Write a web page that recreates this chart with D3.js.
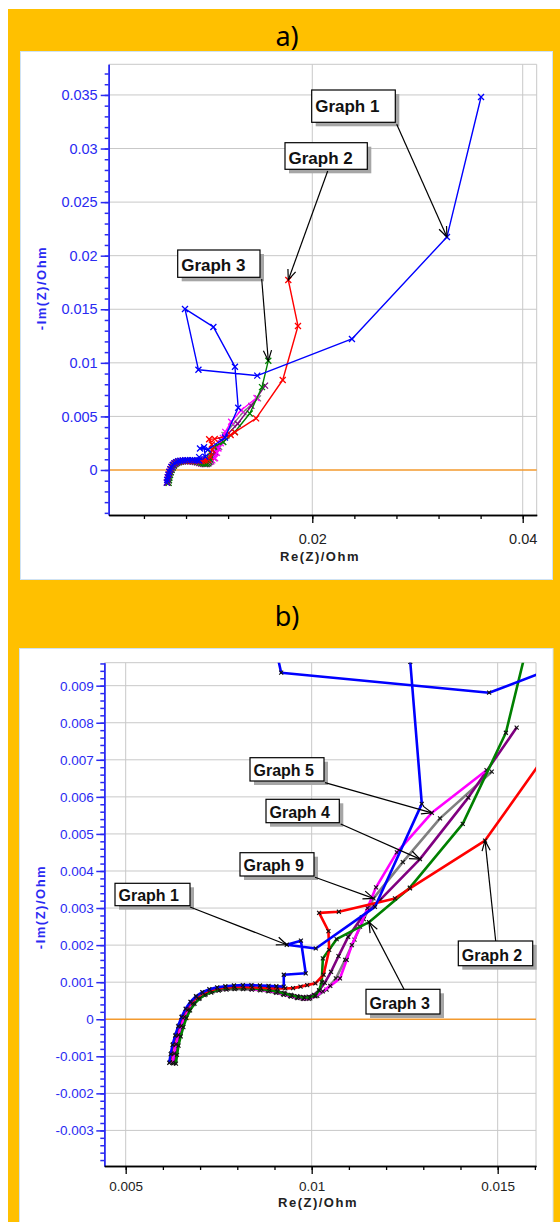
<!DOCTYPE html>
<html>
<head>
<meta charset="utf-8">
<script src="https://cdn.jsdelivr.net/npm/d3@7"></script>
<style>
  body { margin: 0; background: #fff; }
  text { font-family: "Liberation Sans", Arial, sans-serif; }
</style>
</head>
<body>
<svg width="560" height="1222"></svg>
<script>
// ---- data (Re(Z), -Im(Z)) in Ohm ----
var graph1 = [[0.00617,-0.00118],[0.00621,-0.00094],[0.00626,-0.00069],[0.00633,-0.00044],[0.00641,-0.00019],
  [0.00650,0.00006],[0.00661,0.00028],[0.00674,0.00047],[0.00689,0.00062],[0.00706,0.00073],[0.00725,0.00081],
  [0.00746,0.00086],[0.00768,0.00089],[0.00791,0.00091],[0.00815,0.00092],[0.00838,0.00092],[0.00861,0.00091],
  [0.00884,0.00090],[0.00905,0.00089],[0.00925,0.00088],[0.00925,0.00120],[0.00984,0.00124],[0.00971,0.00212],
  [0.00933,0.00201],[0.01011,0.00191],[0.01170,0.00303],[0.01296,0.00581],[0.01265,0.00964],[0.01060,0.01335],
  [0.00790,0.01503],[0.00918,0.00935],[0.01477,0.00881],[0.02377,0.01223],[0.03280,0.02175],[0.03604,0.03481]];

var graph2 = [[0.00619,-0.00116],[0.00623,-0.00092],[0.00628,-0.00067],[0.00635,-0.00042],[0.00643,-0.00017],
  [0.00652,0.00007],[0.00663,0.00028],[0.00676,0.00046],[0.00691,0.00060],[0.00708,0.00071],[0.00727,0.00078],
  [0.00748,0.00083],[0.00770,0.00086],[0.00793,0.00087],[0.00817,0.00087],[0.00840,0.00086],[0.00863,0.00085],
  [0.00886,0.00084],[0.00908,0.00083],[0.00929,0.00083],[0.00950,0.00084],[0.00970,0.00088],[0.00988,0.00092],
  [0.01010,0.00097],[0.01032,0.00120],[0.01047,0.00187],[0.01045,0.00238],[0.01020,0.00287],[0.01073,0.00290],
  [0.01224,0.00326],[0.01264,0.00353],[0.01466,0.00482],[0.01719,0.00840],[0.01864,0.01344],[0.01772,0.01773]];

var graph3 = [[0.00635,-0.00120],[0.00638,-0.00096],[0.00642,-0.00071],[0.00648,-0.00046],[0.00655,-0.00021],
  [0.00663,0.00003],[0.00673,0.00024],[0.00685,0.00042],[0.00699,0.00056],[0.00715,0.00067],[0.00733,0.00075],
  [0.00753,0.00080],[0.00774,0.00083],[0.00796,0.00084],[0.00819,0.00084],[0.00842,0.00083],[0.00865,0.00081],
  [0.00887,0.00078],[0.00908,0.00074],[0.00928,0.00069],[0.00947,0.00064],[0.00964,0.00060],[0.00980,0.00058],
  [0.00995,0.00059],[0.01009,0.00064],[0.01020,0.00078],[0.01027,0.00100],[0.01030,0.00164],[0.01067,0.00216],
  [0.01154,0.00262],[0.01264,0.00355],[0.01406,0.00527],[0.01522,0.00773],[0.01582,0.01020]];

var graph4 = [[0.00630,-0.00118],[0.00634,-0.00094],[0.00638,-0.00069],[0.00644,-0.00044],[0.00651,-0.00019],
  [0.00660,0.00005],[0.00670,0.00026],[0.00682,0.00044],[0.00696,0.00058],[0.00712,0.00069],[0.00730,0.00077],
  [0.00750,0.00082],[0.00771,0.00085],[0.00793,0.00086],[0.00816,0.00086],[0.00839,0.00085],[0.00862,0.00083],
  [0.00884,0.00080],[0.00905,0.00076],[0.00925,0.00071],[0.00944,0.00066],[0.00961,0.00062],[0.00977,0.00060],
  [0.00992,0.00061],[0.01006,0.00066],[0.01020,0.00078],[0.01035,0.00098],[0.01052,0.00128],[0.01072,0.00170],
  [0.01098,0.00222],[0.01135,0.00275],[0.01184,0.00322],[0.01291,0.00432],[0.01421,0.00598],[0.01551,0.00787]];

var graph5 = [[0.00626,-0.00117],[0.00630,-0.00093],[0.00635,-0.00068],[0.00641,-0.00043],[0.00649,-0.00018],
  [0.00658,0.00006],[0.00668,0.00026],[0.00680,0.00043],[0.00694,0.00057],[0.00710,0.00067],[0.00728,0.00074],
  [0.00748,0.00079],[0.00769,0.00082],[0.00791,0.00083],[0.00814,0.00083],[0.00837,0.00082],[0.00860,0.00080],
  [0.00882,0.00077],[0.00903,0.00073],[0.00923,0.00068],[0.00942,0.00063],[0.00960,0.00058],[0.00976,0.00055],
  [0.00992,0.00055],[0.01010,0.00062],[0.01030,0.00075],[0.01050,0.00090],[0.01076,0.00110],[0.01094,0.00160],
  [0.01108,0.00200],[0.01130,0.00250],[0.01150,0.00300],[0.01173,0.00356],[0.01229,0.00450],[0.01323,0.00557],
  [0.01470,0.00672]];

var graph9 = [[0.00628,-0.00119],[0.00632,-0.00095],[0.00637,-0.00070],[0.00643,-0.00045],[0.00651,-0.00020],
  [0.00660,0.00004],[0.00670,0.00024],[0.00682,0.00041],[0.00696,0.00055],[0.00712,0.00065],[0.00730,0.00072],
  [0.00750,0.00077],[0.00771,0.00080],[0.00793,0.00081],[0.00816,0.00081],[0.00839,0.00080],[0.00862,0.00078],
  [0.00884,0.00075],[0.00905,0.00071],[0.00925,0.00066],[0.00944,0.00061],[0.00962,0.00057],[0.00979,0.00055],
  [0.00996,0.00056],[0.01015,0.00063],[0.01040,0.00080],[0.01065,0.00110],[0.01090,0.00160],[0.01115,0.00215],
  [0.01140,0.00270],[0.01166,0.00326],[0.01245,0.00424],[0.01345,0.00542],[0.01484,0.00668]];

// drawing order, back to front
var series = [
  {name: "Graph 9", data: graph9, color: "#808080"},
  {name: "Graph 4", data: graph4, color: "#800080"},
  {name: "Graph 5", data: graph5, color: "#ff00ff"},
  {name: "Graph 3", data: graph3, color: "#008000"},
  {name: "Graph 2", data: graph2, color: "#ff0000"},
  {name: "Graph 1", data: graph1, color: "#0000ff"}
];

// tick labels
var aYTicks = [0, 0.005, 0.01, 0.015, 0.02, 0.025, 0.03, 0.035];
var aXTicks = [0.02, 0.04];
var bYTicks = [-0.003, -0.002, -0.001, 0, 0.001, 0.002, 0.003, 0.004, 0.005, 0.006, 0.007, 0.008, 0.009];
var bXTicks = [0.005, 0.01, 0.015];

var svg = d3.select("svg");
var axisBlue = "#2a2af2";

// yellow frame and the two white panels
svg.append("rect").attr("x", 8).attr("y", 9).attr("width", 552).attr("height", 1213).attr("fill", "#ffc000");
svg.append("rect").attr("x", 20.5).attr("y", 51.5).attr("width", 532).attr("height", 528)
    .attr("fill", "#fff").attr("stroke", "#cfe2f3");
svg.append("rect").attr("x", 19.5).attr("y", 648.5).attr("width", 533.5).attr("height", 590)
    .attr("fill", "#fff").attr("stroke", "#cfe2f3");

svg.append("text").attr("x", 287).attr("y", 46).attr("text-anchor", "middle")
    .style("font-family", "'Noto Sans', sans-serif").style("font-size", "27px").text("a)");
svg.append("text").attr("x", 287).attr("y", 626).attr("text-anchor", "middle")
    .style("font-family", "'Noto Sans', sans-serif").style("font-size", "27px").text("b)");

function fmt(d) {
    return (+d.toFixed(4)).toString();
}

function xMark(s) {
    return "M" + (-s) + "," + (-s) + "L" + s + "," + s + "M" + (-s) + "," + s + "L" + s + "," + (-s);
}

function plot(p) {
    var x = d3.scaleLinear().domain(p.xDomain).range([p.left, p.right]),
        y = d3.scaleLinear().domain(p.yDomain).range([p.bottom, p.top]);

    var g = svg.append("g");

    // grid
    g.selectAll(".hgrid").data(p.yTicks.filter(function (d) { return d !== 0; }))
        .enter().append("line")
        .attr("x1", p.left).attr("x2", p.right)
        .attr("y1", function (d) { return y(d); }).attr("y2", function (d) { return y(d); })
        .attr("stroke", "#c8c8c8");
    g.selectAll(".vgrid").data(p.xTicks)
        .enter().append("line")
        .attr("y1", p.top).attr("y2", p.bottom)
        .attr("x1", function (d) { return x(d); }).attr("x2", function (d) { return x(d); })
        .attr("stroke", "#c8c8c8");
    g.append("path")
        .attr("d", "M" + p.left + "," + p.top + "H" + p.right + "V" + p.bottom)
        .attr("fill", "none").attr("stroke", "#c8c8c8");

    // orange zero line
    g.append("line")
        .attr("x1", p.left).attr("x2", p.right).attr("y1", y(0)).attr("y2", y(0))
        .attr("stroke", "#f39a2e").attr("stroke-width", 1.6);

    // series, clipped to the plot area
    svg.append("clipPath").attr("id", p.id)
        .append("rect").attr("x", p.left).attr("y", p.top)
        .attr("width", p.right - p.left).attr("height", p.bottom - p.top);
    var plotArea = g.append("g").attr("clip-path", "url(#" + p.id + ")");

    var line = d3.line()
        .x(function (d) { return x(d[0]); })
        .y(function (d) { return y(d[1]); });

    series.forEach(function (s) {
        plotArea.append("path")
            .datum(s.data)
            .attr("d", line)
            .attr("fill", "none")
            .attr("stroke", s.color)
            .attr("stroke-width", p.lineWidth)
            .attr("stroke-linejoin", "round");
        plotArea.selectAll(null)
            .data(s.data)
            .enter().append("path")
            .attr("transform", function (d) { return "translate(" + x(d[0]) + "," + y(d[1]) + ")"; })
            .attr("d", xMark(p.markSize))
            .attr("fill", "none")
            .attr("stroke", p.markColor || s.color)
            .attr("stroke-width", p.markWidth);
    });

    // y axis: minor then major ticks
    g.append("g")
        .attr("transform", "translate(" + p.left + ",0)")
        .call(d3.axisLeft(y).tickValues(p.yMinor).tickSize(4).tickSizeOuter(0).tickFormat(""))
        .call(function (a) { a.selectAll("line,path").attr("stroke", axisBlue).attr("stroke-width", 1.5); });
    g.append("g")
        .attr("transform", "translate(" + p.left + ",0)")
        .call(d3.axisLeft(y).tickValues(p.yTicks).tickSize(8).tickSizeOuter(0).tickPadding(p.yPad).tickFormat(fmt))
        .call(function (a) {
            a.selectAll("line,path").attr("stroke", axisBlue).attr("stroke-width", 1.5);
            a.selectAll("text").attr("fill", axisBlue)
                .style("font-family", "'Liberation Sans', Arial, sans-serif")
                .style("font-size", p.tickFont + "px");
        });

    // x axis
    g.append("g")
        .attr("transform", "translate(0," + p.bottom + ")")
        .call(d3.axisBottom(x).tickValues(p.xMinor).tickSize(4).tickSizeOuter(0).tickFormat(""))
        .call(function (a) { a.selectAll("line,path").attr("stroke", "#000").attr("stroke-width", 1.3); });
    g.append("g")
        .attr("transform", "translate(0," + p.bottom + ")")
        .call(d3.axisBottom(x).tickValues(p.xTicks).tickSize(8).tickSizeOuter(0).tickPadding(p.xPad).tickFormat(fmt))
        .call(function (a) {
            a.selectAll("line,path").attr("stroke", "#000").attr("stroke-width", 1.3);
            a.selectAll("text").attr("fill", "#222")
                .style("font-family", "'Liberation Sans', Arial, sans-serif")
                .style("font-size", p.tickFont + "px");
        });

    // axis titles
    g.append("text")
        .attr("x", p.xTitle[0]).attr("y", p.xTitle[1])
        .attr("text-anchor", "middle")
        .style("font-weight", "bold").style("font-size", "13px").style("letter-spacing", "1.5px")
        .attr("fill", "#222")
        .text("Re(Z)/Ohm");
    g.append("text")
        .attr("transform", "translate(" + p.yTitle[0] + "," + p.yTitle[1] + ") rotate(-90)")
        .attr("text-anchor", "middle")
        .style("font-weight", "bold").style("font-size", "13px").style("letter-spacing", "1.5px")
        .attr("fill", axisBlue)
        .text("-Im(Z)/Ohm");

    // callouts
    p.notes.forEach(function (n) {
        var tx = x(n.target[0]), ty = y(n.target[1]);
        var ng = g.append("g");
        ng.append("rect").attr("x", n.box[0] + 4).attr("y", n.box[1] + 4)
            .attr("width", n.box[2]).attr("height", n.box[3]).attr("fill", "#a6a6a6");
        ng.append("rect").attr("x", n.box[0]).attr("y", n.box[1])
            .attr("width", n.box[2]).attr("height", n.box[3])
            .attr("fill", "#fff").attr("stroke", "#000").attr("stroke-width", 1.2);
        ng.append("text").attr("x", n.box[0] + 3.5).attr("y", n.box[1] + n.box[3] - n.base)
            .style("font-weight", "bold").style("font-size", p.noteFont + "px")
            .attr("fill", "#111")
            .text(n.label);
        ng.append("line").attr("x1", n.from[0]).attr("y1", n.from[1]).attr("x2", tx).attr("y2", ty)
            .attr("stroke", "#000").attr("stroke-width", 1.2);
        // open arrow head
        var ang = Math.atan2(ty - n.from[1], tx - n.from[0]), len = 11, spread = 0.38;
        ng.append("path")
            .attr("d", "M" + (tx - len * Math.cos(ang - spread)) + "," + (ty - len * Math.sin(ang - spread)) +
                "L" + tx + "," + ty +
                "L" + (tx - len * Math.cos(ang + spread)) + "," + (ty - len * Math.sin(ang + spread)))
            .attr("fill", "none").attr("stroke", "#000").attr("stroke-width", 1.2);
    });
}

// chart a) whole spectrum
plot({
    id: "clipA",
    left: 108.7, right: 536.7, top: 64.3, bottom: 515,
    xDomain: [0.00065, 0.04133], yDomain: [-0.0042, 0.03786],
    xTicks: aXTicks, yTicks: aYTicks,
    xMinor: d3.range(1, 11).map(function (i) { return i * 0.004; }),
    yMinor: d3.range(-4, 38).map(function (i) { return i * 0.001; }),
    yPad: 3, xPad: 11, tickFont: 14.5,
    lineWidth: 1.4, markSize: 3, markWidth: 1.3,
    xTitle: [320, 561], yTitle: [46, 288],
    noteFont: 17,
    notes: [
        {label: "Graph 1", box: [311.7, 90, 83.6, 32.3], base: 10.5, from: [396.7, 124.3], target: graph1[33]},
        {label: "Graph 2", box: [285, 142.7, 82.3, 26.6], base: 5.5, from: [327.7, 171], target: graph2[34]},
        {label: "Graph 3", box: [177.7, 250, 82.3, 27.3], base: 6.5, from: [261.7, 279], target: graph3[33]}
    ]
});

// chart b) zoom on the high frequency part
plot({
    id: "clipB",
    left: 104.3, right: 536, top: 662.7, bottom: 1166,
    xDomain: [0.004425, 0.01603], yDomain: [-0.00396, 0.00962],
    xTicks: bXTicks, yTicks: bYTicks,
    xMinor: d3.range(5, 17).map(function (i) { return i * 0.001; }),
    yMinor: d3.range(-19, 49).map(function (i) { return i * 0.0002; }),
    yPad: 2.5, xPad: 7, tickFont: 13.5,
    lineWidth: 2.6, markSize: 2, markWidth: 1.1, markColor: "#111",
    xTitle: [318, 1207], yTitle: [45, 907],
    noteFont: 16,
    notes: [
        {label: "Graph 5", box: [250, 757.7, 74, 23.3], base: 5, from: [325, 782.7], target: graph5[34]},
        {label: "Graph 4", box: [266, 799.3, 73.3, 23.4], base: 5, from: [340.7, 824], target: graph4[32]},
        {label: "Graph 9", box: [240, 852.7, 74, 23.3], base: 5, from: [315, 877.3], target: graph9[30]},
        {label: "Graph 1", box: [115, 883.3, 75, 22.4], base: 4.5, from: [190, 907], target: graph1[23]},
        {label: "Graph 2", box: [458.3, 941, 74.4, 24.7], base: 5, from: [495.7, 941], target: graph2[31]},
        {label: "Graph 3", box: [366, 989.3, 74, 24.7], base: 5, from: [404, 989.3], target: graph3[29]}
    ]
});
</script>
</body>
</html>
